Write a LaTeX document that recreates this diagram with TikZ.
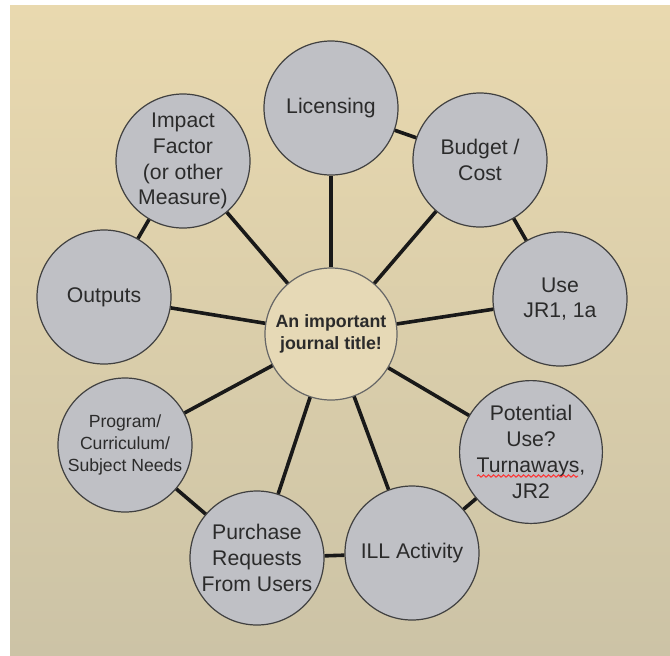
\documentclass[tikz,border=0pt]{standalone}
\usepackage{fontspec}
\setmainfont{Liberation Sans}
\usetikzlibrary{decorations.pathmorphing}
\definecolor{bgtop}{HTML}{E9D9AF}
\definecolor{bgbot}{HTML}{CCC3A6}
\definecolor{bubble}{HTML}{BFC0C5}
\definecolor{hub}{HTML}{E6D9B6}
\definecolor{ink}{HTML}{2B2B2B}
\begin{document}
\begin{tikzpicture}[x=0.5pt,y=-0.5pt]
\tikzstyle{topic}=[circle,draw=black!75,line width=0.6pt,fill=bubble,minimum size=67pt,inner sep=0pt,align=center,text=ink,font=\fontsize{10.6}{12.9}\selectfont]
\tikzstyle{small}=[font=\fontsize{8.8}{11}\selectfont]
\tikzstyle{hubnode}=[circle,draw=black!60,line width=0.6pt,fill=hub,minimum size=66pt,inner sep=0pt,align=center,text=ink,font=\bfseries\fontsize{8.9}{10.9}\selectfont]
\tikzstyle{spoke}=[line width=1.8pt,draw=black!90]

\useasboundingbox (0,0) rectangle (670,655);
\shade[top color=bgtop,bottom color=bgbot] (10,5) rectangle (670,655);


\node[hubnode] (title) at (331,334) {An important\\journal title!};

\node[topic] (lic) at (331,108) {Licensing};
\node[topic] (bud) at (480,160) {Budget /\\Cost};
\node[topic] (use) at (560,299) {Use\\JR1, 1a};
\node[topic] (pot) at (531,452) {Potential\\Use?\\Turnaways,\\JR2};
\node[topic] (ill) at (412,553) {ILL Activity};
\node[topic] (pur) at (257,558) {Purchase\\Requests\\From Users};
\node[topic,small] (prog) at (125,445) {Program/\\Curriculum/\\Subject Needs};
\node[topic] (out) at (104,297) {Outputs};
\node[topic] (imp) at (183,161) {Impact\\Factor\\(or other\\Measure)};


\foreach \n in {lic,bud,use,pot,ill,pur,prog,out,imp}
{
  \draw[spoke] (title) -- (\n);
}

\draw[spoke] (lic) -- (bud);
\draw[spoke] (bud) -- (use);
\draw[spoke] (pot) -- (ill);
\draw[spoke] (ill) -- (pur);
\draw[spoke] (pur) -- (prog);
\draw[spoke] (out) -- (imp);


\draw[red!80,line width=0.5pt,decorate,decoration={snake,amplitude=0.6pt,segment length=2.5pt}] (477,476) -- (578,476);

\end{tikzpicture}
\end{document}
